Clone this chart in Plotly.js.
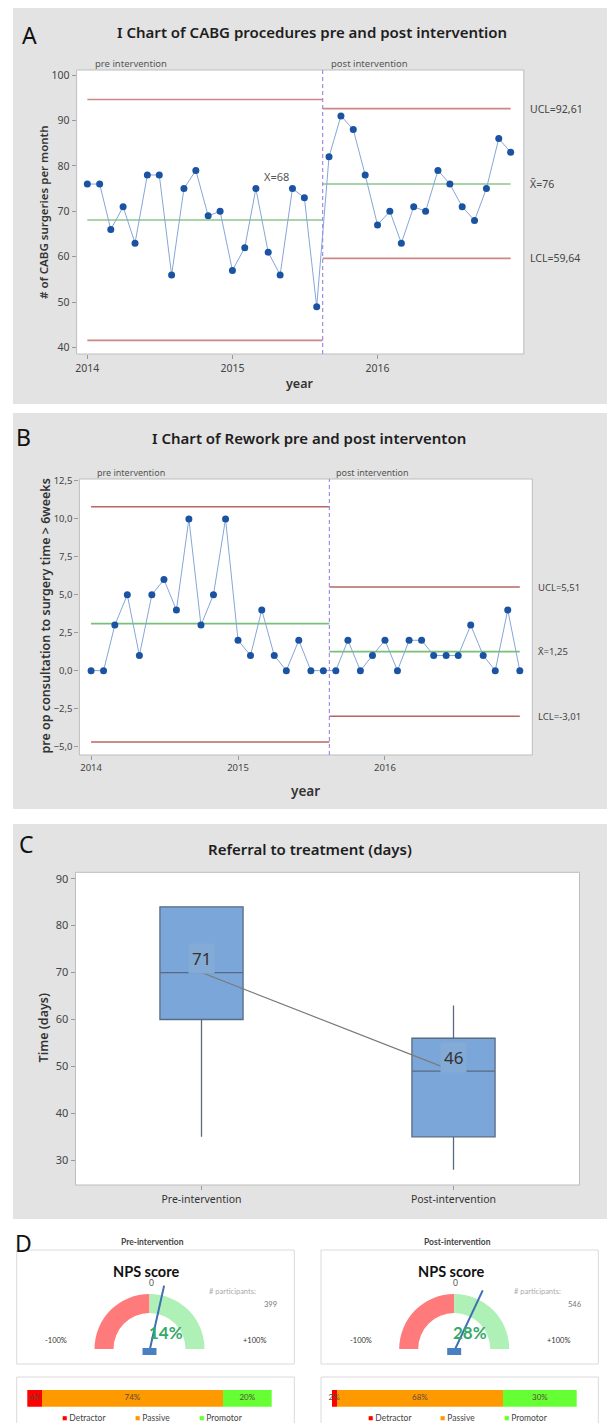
<!DOCTYPE html>
<html><head><meta charset="utf-8">
<script src="https://cdn.plot.ly/plotly-3.0.1.min.js"></script>
<style>html,body{margin:0;padding:0;background:#fff}#chart{width:607px;height:1423px}</style>
</head><body><div id="chart"></div>
<script>
// ================= DATA =================
const months = ['2014-01-01','2014-02-01','2014-03-01','2014-04-01','2014-05-01','2014-06-01','2014-07-01','2014-08-01','2014-09-01','2014-10-01','2014-11-01','2014-12-01',
                '2015-01-01','2015-02-01','2015-03-01','2015-04-01','2015-05-01','2015-06-01','2015-07-01','2015-08-01','2015-09-01','2015-10-01','2015-11-01','2015-12-01',
                '2016-01-01','2016-02-01','2016-03-01','2016-04-01','2016-05-01','2016-06-01','2016-07-01','2016-08-01','2016-09-01','2016-10-01','2016-11-01','2016-12-01'];
const preCount = 20;                 // months in the pre-intervention stage
const stageSplit = '2015-08-16';     // boundary between stages
const yearTicks = ['2014-01-01','2015-01-01','2016-01-01'];
const stageLabels = ['pre intervention','post intervention'];

// Panel A: CABG procedures per month
const cabgValues = [76,76,66,71,63,78,78,56,75,79,69,70,57,62,75,61,56,75,73,49,
                    82,91,88,78,67,70,63,71,70,79,76,71,68,75,86,83];
const cabgPreLimits  = [94.6, 68.1, 41.6];     // UCL, mean, LCL
const cabgPostLimits = [92.61, 76, 59.64];
const cabgTicks = [40,50,60,70,80,90,100];

// Panel B: Rework
const reworkValues = [0,0,3,5,1,5,6,4,10,3,5,10,2,1,4,1,0,2,0,0,
                      0,2,0,1,2,0,2,2,1,1,1,3,1,0,4,0];
const reworkPreLimits  = [10.8, 3.1, -4.7];
const reworkPostLimits = [5.51, 1.25, -3.01];
const reworkTicks = [-5,-2.5,0,2.5,5,7.5,10,12.5];

// Panel C: Referral to treatment (days)
const boxCats   = ['Pre-intervention','Post-intervention'];
const boxLower  = [35, 28];
const boxQ1     = [60, 35];
const boxMedian = [70, 49];
const boxQ3     = [84, 56];
const boxUpper  = [84, 63];
const boxLabels = [71, 46];
const boxTicks  = [30,40,50,60,70,80,90];

// Panel D: NPS
const npsGroups = ['Pre-intervention','Post-intervention'];
const npsScore = [14, 28];
const npsParticipants = [399, 546];
const npsCats = ['Detractor','Passive','Promotor'];
const npsPre  = [6, 74, 20];
const npsPost = [2, 68, 30];
const gaugeRange = [-100, 100];

// ================= HELPERS =================
const W = 607, H = 1423;
const fx = p => p / W;
const fy = p => 1 - p / H;
const F  = "'Noto Sans', 'Open Sans', sans-serif";
const FD = "Lato, 'Noto Sans', sans-serif";
const comma = v => String(v).replace('.', ',');

const traces = [];
const shapes = [];
const annotations = [];

function ann(text, px, py, size, color, extra) {
  return Object.assign({text: text, x: fx(px), y: fy(py), xref: 'paper', yref: 'paper',
    showarrow: false, xanchor: 'center', yanchor: 'middle',
    font: {family: F, size: size, color: color}}, extra || {});
}

// ---------- panel backgrounds ----------
[[8,404],[413,809],[824,1219]].forEach(([t,b]) => shapes.push({type:'rect', xref:'paper', yref:'paper',
  x0: fx(13), x1: fx(607), y0: fy(b), y1: fy(t), fillcolor:'#e3e3e3', line:{width:0}, layer:'below'}));
[[76.6,523.8,70,354],[79.4,532.3,479,755],[75.5,579.5,872.3,1185]].forEach(([l,r,t,b]) => shapes.push({type:'rect', xref:'paper', yref:'paper',
  x0: fx(l), x1: fx(r), y0: fy(b), y1: fy(t), fillcolor:'#ffffff', line:{width:1, color:'#bdbdbd'}, layer:'below'}));

// ---------- control charts ----------
function controlChart(xa, ya, values, preLim, postLim, cfg) {
  const preX = months.slice(0, preCount), postX = months.slice(preCount);
  const limColors = [cfg.limit, cfg.mean, cfg.limit];
  [0,1,2].forEach(i => {
    traces.push({type:'scatter', mode:'lines', xaxis:xa, yaxis:ya, x:[preX[0], stageSplit], y:[preLim[i], preLim[i]],
      line:{color:limColors[i], width:1.6}, hoverinfo:'skip', showlegend:false});
    traces.push({type:'scatter', mode:'lines', xaxis:xa, yaxis:ya, x:[stageSplit, postX[postX.length-1]], y:[postLim[i], postLim[i]],
      line:{color:limColors[i], width:1.6}, hoverinfo:'skip', showlegend:false});
  });
  traces.push({type:'scatter', mode:'lines+markers', xaxis:xa, yaxis:ya, x:months, y:values,
    line:{color:'#86a6d6', width:1}, marker:{color:'#1b53a3', size:7}, hoverinfo:'skip', showlegend:false});
  shapes.push({type:'line', xref:xa, yref:ya + ' domain', x0:stageSplit, x1:stageSplit, y0:0, y1:1,
    line:{color:'#a28de4', width:1.2, dash:'4px,3px'}});
  const yr = ya;
  annotations.push({text:'UCL=' + comma(postLim[0]), xref:'paper', x:fx(cfg.labelX), yref:yr, y:postLim[0], xanchor:'left', yanchor:'middle', showarrow:false, font:{family:F, size:cfg.lblSize, color:'#444'}});
  annotations.push({text:'X\u0304=' + comma(postLim[1]), xref:'paper', x:fx(cfg.labelX), yref:yr, y:postLim[1], xanchor:'left', yanchor:'middle', showarrow:false, font:{family:F, size:cfg.lblSize, color:'#444'}});
  annotations.push({text:'LCL=' + comma(postLim[2]), xref:'paper', x:fx(cfg.labelX), yref:yr, y:postLim[2], xanchor:'left', yanchor:'middle', showarrow:false, font:{family:F, size:cfg.lblSize, color:'#444'}});
  annotations.push(ann(stageLabels[0], cfg.stageX[0], cfg.stageY, cfg.stageSize, '#555', {xanchor:'left'}));
  annotations.push(ann(stageLabels[1], cfg.stageX[1], cfg.stageY, cfg.stageSize, '#555', {xanchor:'left'}));
}

controlChart('x', 'y', cabgValues, cabgPreLimits, cabgPostLimits,
  {limit:'#cc8888', mean:'#8dc48d', labelX:528, lblSize:10.5, stageX:[93,329], stageY:64, stageSize:9.5});
controlChart('x2', 'y2', reworkValues, reworkPreLimits, reworkPostLimits,
  {limit:'#b96464', mean:'#78c078', labelX:536, lblSize:9.5, stageX:[94.8,333.7], stageY:473, stageSize:9});
annotations.push({text:'X=' + Math.round(cabgPreLimits[1]), xref:'x', x:'2015-04-22', yref:'y', y:77.6, showarrow:false,
  xanchor:'center', yanchor:'middle', font:{family:F, size:11, color:'#555'}});

// titles, letters, axis titles
const titleFont = {family:F, size:15, color:'#1e1e1e', weight:600};
annotations.push(ann('A', 29, 35, 23, '#111'));
annotations.push(ann('B', 23, 437, 23, '#111'));
annotations.push(ann('C', 26, 844, 23, '#111'));
annotations.push(ann('D', 24, 1243, 23, '#111'));
annotations.push(ann('I Chart of CABG procedures pre and post intervention', 311.5, 32, 15, '#1e1e1e', {font:titleFont}));
annotations.push(ann('I Chart of Rework pre and post interventon', 308.7, 438.3, 15, '#1e1e1e', {font:titleFont}));
annotations.push(ann('Referral to treatment (days)', 310.3, 849.3, 15, '#1e1e1e', {font:titleFont}));
annotations.push(ann('# of CABG surgeries per month', 43, 212, 11.5, '#333', {textangle:-90, font:{family:F, size:11.5, color:'#333', weight:600}}));
annotations.push(ann('pre op consultation to surgery time > 6weeks', 44.5, 616, 12.5, '#333', {textangle:-90, font:{family:F, size:12.5, color:'#333', weight:600}}));
annotations.push(ann('Time (days)', 43.4, 1028, 12.5, '#333', {textangle:-90, font:{family:F, size:12.5, color:'#333', weight:600}}));
annotations.push(ann('year', 299, 384, 12.5, '#333', {font:{family:F, size:12.5, color:'#333', weight:600}}));
annotations.push(ann('year', 305.8, 790.7, 13.5, '#333', {font:{family:F, size:13.5, color:'#333', weight:600}}));

// ---------- box plot ----------
traces.push({type:'box', xaxis:'x3', yaxis:'y3', x:boxCats, q1:boxQ1, median:boxMedian, q3:boxQ3,
  lowerfence:boxLower, upperfence:boxUpper, boxpoints:false, whiskerwidth:0, width:0.33,
  fillcolor:'#7ba6da', line:{color:'#5a6b80', width:1.3}, hoverinfo:'skip', showlegend:false});
traces.push({type:'scatter', mode:'lines', xaxis:'x3', yaxis:'y3', x:boxCats, y:boxMedian,
  line:{color:'#7a7a7a', width:1.2}, hoverinfo:'skip', showlegend:false});
boxCats.forEach((c, i) => annotations.push({text:String(boxLabels[i]), xref:'x3', yref:'y3', x:c, y:boxMedian[i], yshift:14,
  showarrow:false, bgcolor:'#84aad6', borderpad:3, font:{family:F, size:17, color:'#333'}}));

// ---------- NPS gauges ----------
const gaugeCenters = [149.5, 454.2], gaugeCY = 1349, gaugeR = 55;
const boxX = [[16.7, 294.3], [321, 598.3]];
npsGroups.forEach((g, i) => {
  const cx = gaugeCenters[i];
  shapes.push({type:'rect', xref:'paper', yref:'paper', x0:fx(boxX[i][0]), x1:fx(boxX[i][1]), y0:fy(1364), y1:fy(1250),
    fillcolor:'#fff', line:{color:'#dadada', width:1}, layer:'below'});
  shapes.push({type:'rect', xref:'paper', yref:'paper', x0:fx(boxX[i][0]), x1:fx(boxX[i][1]), y0:fy(1440), y1:fy(1377),
    fillcolor:'#fff', line:{color:'#dadada', width:1}, layer:'below'});
  traces.push({type:'pie', values:[0 - gaugeRange[0], gaugeRange[1] - 0, gaugeRange[1] - gaugeRange[0]],
    marker:{colors:['#ff7a7a','#aef0b6','rgba(0,0,0,0)'], line:{width:0}}, hole:0.655, sort:false,
    direction:'clockwise', rotation:-90, textinfo:'none', hoverinfo:'skip', showlegend:false,
    domain:{x:[fx(cx - gaugeR), fx(cx + gaugeR)], y:[fy(gaugeCY + gaugeR), fy(gaugeCY - gaugeR)]}});
  const th = (npsScore[i] - gaugeRange[0]) / (gaugeRange[1] - gaugeRange[0]) * Math.PI - Math.PI / 2;
  const L = 67;
  shapes.push({type:'line', xref:'paper', yref:'paper', x0:fx(cx), y0:fy(gaugeCY + 2),
    x1:fx(cx + L * Math.sin(th)), y1:fy(gaugeCY + 2 - L * Math.cos(th)), line:{color:'#3f70b3', width:2}, layer:'above'});
  shapes.push({type:'rect', xref:'paper', yref:'paper', x0:fx(cx - 7), x1:fx(cx + 7), y0:fy(gaugeCY + 6), y1:fy(gaugeCY - 1),
    fillcolor:'#4a7fc2', line:{width:0}, layer:'above'});
  annotations.push(ann(g, cx + 3, 1241.7, 8.5, '#444', {font:{family:FD, size:8.5, color:'#444', weight:'bold'}}));
  annotations.push(ann('NPS score', cx - 3.5, 1271, 14, '#111', {font:{family:FD, size:14.5, color:'#111', weight:'bold'}}));
  annotations.push(ann('0', cx + 1.5, 1282.7, 8, '#555', {font:{family:FD, size:8.5, color:'#555'}}));
  annotations.push(ann('# participants:', cx + 83, 1291.7, 7.5, '#aaa', {font:{family:FD, size:7.5, color:'#aaa'}}));
  annotations.push(ann(String(npsParticipants[i]), cx + 120.5, 1304, 7.5, '#777', {font:{family:FD, size:7.5, color:'#777'}}));
  annotations.push(ann(gaugeRange[0] + '%', cx - 93.5, 1340, 7.5, '#333', {font:{family:FD, size:7.5, color:'#333'}}));
  annotations.push(ann('+' + gaugeRange[1] + '%', cx + 104.5, 1340, 7.5, '#333', {font:{family:FD, size:7.5, color:'#333'}}));
  annotations.push(ann(npsScore[i] + '%', cx + 16, 1332.3, 16, '#33aa66', {font:{family:FD, size:17, color:'#33aa66', weight:'bold'}}));
});

// ---------- NPS stacked bars ----------
const barColors = ['#ff0000', '#ff9900', '#66ff33'];
const legendX = [[62.3, 135, 199.3], [368.3, 440, 504.3]];
[npsPre, npsPost].forEach((vals, gi) => {
  const xa = gi === 0 ? 'x4' : 'x5', ya = gi === 0 ? 'y4' : 'y5';
  const mids = [];
  let acc = 0;
  npsCats.forEach((c, k) => {
    traces.push({type:'bar', orientation:'h', xaxis:xa, yaxis:ya, x:[vals[k]], y:[npsGroups[gi]], name:c,
      marker:{color:barColors[k], line:{width:0}}, hoverinfo:'skip', showlegend:false});
    mids.push(acc + vals[k] / 2);
    acc += vals[k];
    annotations.push(ann('<span style="color:' + barColors[k] + '">\u25A0</span> ' + c, legendX[gi][k] - 2, 1417.7, 8, '#444',
      {xanchor:'left', font:{family:FD, size:8.5, color:'#444'}}));
  });
  traces.push({type:'scatter', mode:'text', xaxis:xa, yaxis:ya, x:mids, y:mids.map(() => npsGroups[gi]),
    text:vals.map(v => v + '%'), textposition:'middle center', textfont:{family:FD, size:8, color:'#5a4a3a'},
    hoverinfo:'skip', showlegend:false, cliponaxis:false});
});

// ================= LAYOUT =================
const tickFont = s => ({family:F, size:s, color:'#444'});
const common = {showgrid:false, zeroline:false, showline:false, ticks:'outside', ticklen:4, tickcolor:'#999', fixedrange:true};
const layout = {
  width: W, height: H, margin:{l:0, r:0, t:0, b:0, pad:0}, autosize:false,
  paper_bgcolor:'#ffffff', plot_bgcolor:'rgba(0,0,0,0)', showlegend:false, separators:',.',
  barmode:'stack', bargap:0, hovermode:false,
  xaxis: Object.assign({}, common, {domain:[fx(76.6), fx(523.8)], anchor:'y', type:'date', range:['2013-12-05','2017-01-03'],
    tickmode:'array', tickvals:yearTicks, tickformat:'%Y', tickfont:tickFont(10.5)}),
  yaxis: Object.assign({}, common, {domain:[fy(354), fy(70)], anchor:'x', range:[38.6, 101.1],
    tickmode:'array', tickvals:cabgTicks, tickfont:tickFont(10.5)}),
  xaxis2: Object.assign({}, common, {domain:[fx(79.4), fx(532.3)], anchor:'y2', type:'date', range:['2013-12-03','2017-01-01'],
    tickmode:'array', tickvals:yearTicks, tickformat:'%Y', tickfont:tickFont(9.5)}),
  yaxis2: Object.assign({}, common, {domain:[fy(755), fy(479)], anchor:'x2', range:[-5.56, 12.63],
    tickmode:'array', tickvals:reworkTicks, tickformat:'.1f', tickfont:tickFont(9.5)}),
  xaxis3: Object.assign({}, common, {domain:[fx(75.5), fx(579.5)], anchor:'y3', type:'category', range:[-0.5, 1.5],
    tickfont:{family:F, size:10.5, color:'#333'}}),
  yaxis3: Object.assign({}, common, {domain:[fy(1185), fy(872.3)], anchor:'x3', range:[24.74, 91.36],
    tickmode:'array', tickvals:boxTicks, tickfont:tickFont(11)}),
  xaxis4: {domain:[fx(27.3), fx(271.7)], anchor:'y4', range:[0, 100], visible:false, fixedrange:true},
  yaxis4: {domain:[fy(1406.7), fy(1390)], anchor:'x4', type:'category', range:[-0.5, 0.5], visible:false, fixedrange:true},
  xaxis5: {domain:[fx(331.7), fx(576.7)], anchor:'y5', range:[0, 100], visible:false, fixedrange:true},
  yaxis5: {domain:[fy(1406.7), fy(1390)], anchor:'x5', type:'category', range:[-0.5, 0.5], visible:false, fixedrange:true},
  shapes: shapes,
  annotations: annotations
};

Plotly.newPlot('chart', traces, layout, {staticPlot:true, displayModeBar:false});
</script>
</body></html>
